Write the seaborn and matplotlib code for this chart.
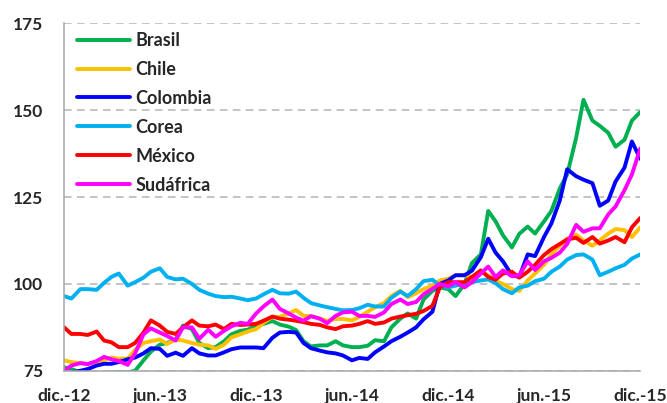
import pandas as pd
import matplotlib
matplotlib.use('Agg')
import matplotlib.pyplot as plt
import seaborn as sns

# semi-monthly readings, dic.-12 .. dic.-15 (73 points per country)
fechas = pd.date_range('2012-12-01', periods=73, freq='SMS')

brasil = [76, 75.5, 74.5, 74, 73.5, 74, 74.5, 74.5, 74.5, 75, 78, 80.5, 82.5, 83, 84, 88,
          87, 83, 81.5, 81.8, 83.5, 85.5, 86.5, 86.8, 88, 88.5, 89.3, 88.3, 87.7, 86.7, 83.5, 82,
          82.3, 82.3, 83.5, 82.3, 81.8, 81.8, 82.2, 83.8, 83.5, 87.5, 90, 91.5, 90, 95.5, 98, 99,
          98.5, 96.5, 100, 106, 108.5, 121, 118, 114, 110.5, 114.4, 116.5, 114.5, 118, 121, 127.5, 131.5,
          142, 153, 147, 145.5, 143.5, 139.5, 141.5, 147, 149.5]
chile = [78, 77.5, 77.2, 77, 77.5, 78, 78.8, 78.5, 78.5, 81, 83, 83.5, 84, 82.7, 84, 83.7,
         83, 82.5, 82.3, 81.3, 82.5, 84.6, 85.5, 86.3, 87, 88.8, 90.5, 90.5, 91.5, 92.5, 90.8, 90.8,
         90, 89.4, 89.9, 89.9, 89.5, 90.5, 92, 93.3, 94.5, 96.5, 98, 96.2, 97.3, 98.5, 99.5, 101,
         101.5, 102.5, 102.5, 102, 103.5, 102.5, 100.8, 100, 98.5, 98, 101, 103, 105.5, 108.5, 111, 113,
         114.2, 112.5, 111, 112.5, 114.5, 115.8, 115.5, 113.5, 116.3]
colombia = [74, 74.5, 75, 75.5, 76.5, 77, 77, 77.5, 78.3, 78.8, 80, 81.5, 81.3, 79.3, 80.2, 79.3,
            81.5, 80, 79.4, 79.4, 80.3, 81.2, 81.7, 81.7, 81.7, 81.5, 84.5, 86, 86.2, 86, 83, 81.5,
            80.8, 80.3, 80, 79.4, 78, 78.7, 78.4, 80.3, 82, 83.5, 84.8, 86, 87.5, 89.8, 92, 100,
            101, 102.5, 102.5, 103.8, 107.7, 113, 109, 106.5, 102.5, 102, 108.5, 108, 113.5, 117.4, 124, 133,
            131, 130, 129, 122.5, 124, 129.5, 133.5, 141, 136]
corea = [96.5, 95.8, 98.5, 98.5, 98.3, 100.3, 102, 103, 99.5, 100.5, 101.8, 103.5, 104.5, 102, 101.3, 101.5,
         100, 98.3, 97.2, 96.5, 96.2, 96.3, 95.8, 95.3, 95.8, 97, 98.3, 97.3, 97.2, 97.8, 96, 94.5,
         93.8, 93.3, 92.8, 92.4, 92.5, 93, 94, 93.5, 93.5, 96, 97.8, 96.5, 98.5, 100.8, 101.2, 99.5,
         99, 99.5, 100, 100.5, 101, 101.3, 100.2, 98.5, 97.3, 99, 99.5, 100.8, 101.5, 103.5, 105, 107,
         108.3, 108.5, 107, 102.5, 103.5, 104.5, 105.5, 107.3, 108.5]
mexico = [87.5, 85.6, 85.6, 85.3, 86.3, 83.7, 83.2, 81.8, 81.8, 83, 86, 89.5, 88, 86.2, 85.6, 87.5,
          89.5, 88, 87.8, 88.3, 87, 88.5, 88.2, 88.3, 88.5, 89.4, 90.6, 90, 89.7, 89.4, 89, 88.5,
          88.2, 87.5, 87, 87.8, 88, 88.5, 89.3, 88.5, 88.9, 90, 90.6, 91, 91.4, 92.2, 93.7, 99,
          100.5, 100.5, 100.5, 102, 103.9, 102, 101.2, 103, 103.5, 101.8, 103.5, 105.5, 108.3, 110, 111.5, 112.8,
          113.3, 111.8, 113.5, 111.6, 112.5, 113.5, 112, 116.3, 119]
sudafrica = [75, 76.5, 77.2, 76.9, 77.8, 79, 78.3, 77.8, 76.7, 80, 85.5, 87.2, 86, 85, 83.7, 87.5,
             87.5, 84.2, 86.8, 84.8, 86.5, 87.8, 88.8, 88.5, 91.5, 93.5, 95.5, 92.8, 91.5, 90.3, 89.4, 90.7,
             90, 88.7, 90.8, 91.8, 92, 90.8, 90.8, 90.5, 91.8, 94.2, 95.5, 94.2, 94.8, 97, 98.6, 100,
             99.3, 100.5, 99, 100.5, 103, 105, 102, 103.9, 102.2, 102.5, 106.5, 104, 106.5, 107.5, 109, 111.5,
             117, 115, 116, 116, 120, 122.3, 127, 131.5, 139]

paises = ['Brasil', 'Chile', 'Colombia', 'Corea', 'México', 'Sudáfrica']
colores = ['#00B050', '#FFC000', '#0000FF', '#00B0F0', '#FF0000', '#FF00FF']
series = [brasil, chile, colombia, corea, mexico, sudafrica]

etiquetas_x = ['dic.-12', 'jun.-13', 'dic.-13', 'jun.-14', 'dic.-14', 'jun.-15', 'dic.-15']
ticks_x = pd.date_range('2012-12-01', periods=7, freq='6MS')
ticks_y = [75, 100, 125, 150, 175]

# long format for seaborn
df = pd.concat([pd.DataFrame({'fecha': fechas, 'valor': v, 'pais': p})
                for p, v in zip(paises, series)], ignore_index=True)

sns.set_theme(style='white')
plt.rcParams['font.family'] = ['Lato', 'DejaVu Sans']

fig = plt.figure(figsize=(6.67, 4.03), dpi=100)
ax = fig.add_axes([0.096, 0.080, 0.864, 0.862])

sns.lineplot(data=df, x='fecha', y='valor', hue='pais', hue_order=paises,
             palette=colores, linewidth=2.8, ax=ax)

ax.set_xlim(fechas[0], fechas[-1])
ax.set_ylim(75, 175)
ax.set_xticks(ticks_x)
ax.set_xticklabels(etiquetas_x)
ax.set_yticks(ticks_y)
ax.set_xlabel('')
ax.set_ylabel('')

ax.yaxis.grid(True, linestyle=(0, (5, 3.5)), color='#B4B4B4', linewidth=1.1)
ax.set_axisbelow(True)

for s in ['top', 'right']:
    ax.spines[s].set_visible(False)
for s in ['left', 'bottom']:
    ax.spines[s].set_color('#A6A6A6')
    ax.spines[s].set_linewidth(1.1)

ax.tick_params(axis='both', direction='out', width=1, color='#A6A6A6', labelsize=12.5)
ax.tick_params(axis='x', length=4.5, pad=8)
ax.tick_params(axis='y', length=5, pad=10)
for lab in ax.get_xticklabels() + ax.get_yticklabels():
    lab.set_fontweight('bold')

leg = ax.legend(loc='upper left', bbox_to_anchor=(0.002, 1.009), frameon=False,
                fontsize=13, handlelength=2.95, labelspacing=0.66,
                borderaxespad=0.25, handletextpad=0.3)
for t in leg.get_texts():
    t.set_fontweight('bold')
for h in leg.get_lines():
    h.set_linewidth(2.8)

fig.savefig('out.png', dpi=100)
